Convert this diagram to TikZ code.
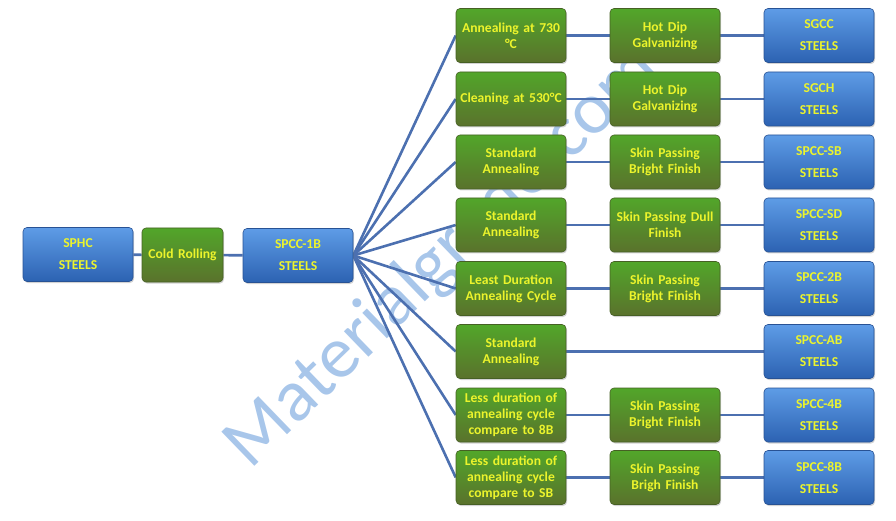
\documentclass[tikz,border=0pt]{standalone}
\usepackage{fontspec}
\setmainfont{Carlito}
\usetikzlibrary{positioning,shadows,backgrounds}

\definecolor{boxbluetop}{RGB}{94,156,230}
\definecolor{boxbluebot}{RGB}{44,98,178}
\definecolor{boxblueline}{RGB}{40,82,148}
\definecolor{boxgreentop}{RGB}{82,166,42}
\definecolor{boxgreenmid}{RGB}{112,150,58}
\definecolor{boxgreenbot}{RGB}{90,114,44}
\definecolor{boxgreenline}{RGB}{70,96,36}
\definecolor{labelyellow}{RGB}{236,244,44}
\definecolor{linkblue}{RGB}{76,112,176}
\definecolor{markblue}{RGB}{168,198,234}

\begin{document}
\begin{tikzpicture}[
    x=1pt, y=-1pt,
    link/.style={draw=linkblue, line width=2.6pt},
    steel/.style={
        rectangle, rounded corners=4pt,
        draw=boxblueline, line width=0.6pt,
        top color=boxbluetop, bottom color=boxbluebot,
        drop shadow={opacity=0.35, shadow xshift=1pt, shadow yshift=-1.5pt},
        minimum height=54pt, text width=106pt, inner sep=2pt,
        align=center, text=labelyellow,
        font=\fontsize{13.6}{16}\selectfont\bfseries
    },
    process/.style={
        rectangle, rounded corners=4pt,
        draw=boxgreenline, line width=0.6pt,
        top color=boxgreentop, middle color=boxgreenmid, bottom color=boxgreenbot,
        drop shadow={opacity=0.35, shadow xshift=1pt, shadow yshift=-1.5pt},
        minimum height=54pt, text width=106pt, inner sep=2pt,
        align=center, text=labelyellow,
        font=\fontsize{13.6}{16}\selectfont\bfseries
    }
]
\useasboundingbox (0,0) rectangle (896,521);

% Nodes
\node[steel] (sphc) at (78,254.5) {SPHC\\[6pt]STEELS};
\node[process, text width=77pt] (coldroll) at (182.5,255) {Cold Rolling};
\node[steel] (spcconeb) at (298,255.5) {SPCC-1B\\[6pt]STEELS};

% first treatment
\node[process] (anneal) at (511,35.5) {Annealing at 730\\°C};
\node[process] (clean) at (511,99) {Cleaning at 530°C};
\node[process] (stdsb) at (511,162) {Standard\\Annealing};
\node[process] (stdsd) at (511,225) {Standard\\Annealing};
\node[process] (least) at (511,288.5) {Least Duration\\Annealing Cycle};
\node[process] (stdab) at (511,351.5) {Standard\\Annealing};
\node[process] (lessfourb) at (511,415) {Less duration of\\annealing cycle\\compare to 8B};
\node[process] (lesseightb) at (511,477.5) {Less duration of\\annealing cycle\\compare to SB};

% finishing
\node[process] (galvcc) at (665,35.5) {Hot Dip\\Galvanizing};
\node[process] (galvch) at (665,99) {Hot Dip\\Galvanizing};
\node[process] (skinsb) at (665,162) {Skin Passing\\Bright Finish};
\node[process] (skinsd) at (665,225) {Skin Passing  Dull\\Finish};
\node[process] (skintwob) at (665,288.5) {Skin Passing\\Bright Finish};
\node[process] (skinfourb) at (665,415) {Skin Passing\\Bright Finish};
\node[process] (skineightb) at (665,477.5) {Skin Passing\\Brigh Finish};

% grades
\node[steel] (sgcc) at (819,35.5) {SGCC\\[6pt]STEELS};
\node[steel] (sgch) at (819,99) {SGCH\\[6pt]STEELS};
\node[steel] (spccsb) at (819,162) {SPCC-SB\\[6pt]STEELS};
\node[steel] (spccsd) at (819,225) {SPCC-SD\\[6pt]STEELS};
\node[steel] (spcctwob) at (819,288.5) {SPCC-2B\\[6pt]STEELS};
\node[steel] (spccab) at (819,351.5) {SPCC-AB\\[6pt]STEELS};
\node[steel] (spccfourb) at (819,415) {SPCC-4B\\[6pt]STEELS};
\node[steel] (spcceightb) at (819,477.5) {SPCC-8B\\[6pt]STEELS};

\begin{pgfonlayer}{background}
    % watermark, behind boxes and links
    \node[text=markblue, rotate=44, font=\fontsize{74}{74}\selectfont] (mark) at (443,258) {Materialgrade.com};

    % Edges (links)
    \draw[link] (sphc) -- (coldroll);
    \draw[link] (coldroll) -- (spcconeb);

    % fan out of SPCC-1B
    \draw[link] (spcconeb.east) -- (anneal.west);
    \draw[link] (spcconeb.east) -- (clean.west);
    \draw[link] (spcconeb.east) -- (stdsb.west);
    \draw[link] (spcconeb.east) -- (stdsd.west);
    \draw[link] (spcconeb.east) -- (least.west);
    \draw[link] (spcconeb.east) -- (stdab.west);
    \draw[link] (spcconeb.east) -- (lessfourb.west);
    \draw[link] (spcconeb.east) -- (lesseightb.west);

    % rows
    \draw[link] (anneal) -- (galvcc) -- (sgcc);
    \draw[link] (clean) -- (galvch) -- (sgch);
    \draw[link] (stdsb) -- (skinsb) -- (spccsb);
    \draw[link] (stdsd) -- (skinsd) -- (spccsd);
    \draw[link] (least) -- (skintwob) -- (spcctwob);
    \draw[link] (stdab) -- (spccab);
    \draw[link] (lessfourb) -- (skinfourb) -- (spccfourb);
    \draw[link] (lesseightb) -- (skineightb) -- (spcceightb);
\end{pgfonlayer}

\end{tikzpicture}
\end{document}
